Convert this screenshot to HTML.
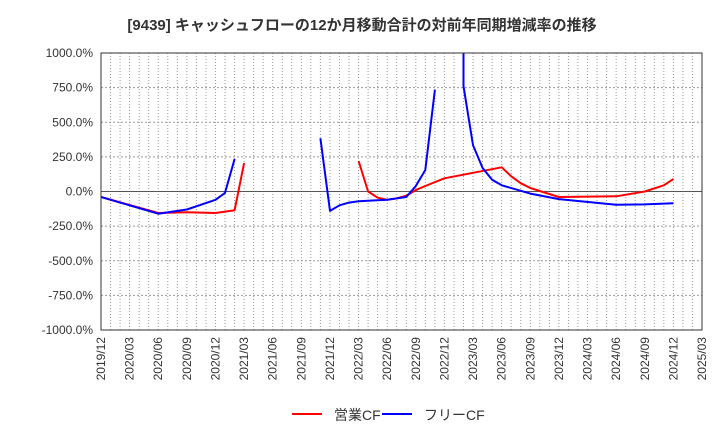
<!DOCTYPE html>
<html><head><meta charset="utf-8">
<style>
body{margin:0;background:#fff;width:720px;height:440px;overflow:hidden;font-family:"Liberation Sans","Noto Sans CJK JP",sans-serif;}
svg{display:block}
</style></head>
<body>
<svg id="chart" width="720" height="440">
<text x="362" y="30" text-anchor="middle" font-size="15" font-weight="bold" fill="#333">[9439]  キャッシュフローの12か月移動合計の対前年同期増減率の推移</text>
<g id="grid"></g>
<g id="yaxis"></g>
<g id="xaxis"></g>
<defs><clipPath id="clip"><rect x="101" y="53" width="601" height="277"/></clipPath></defs>
<g id="series" clip-path="url(#clip)"></g>
<rect x="101" y="53" width="601" height="277" fill="none" stroke="#333" stroke-width="1"/>
<g>
<line x1="292" y1="414" x2="322" y2="414" stroke="#f00" stroke-width="2"/>
<text x="334" y="420" font-size="14" fill="#333">営業CF</text>
<line x1="382" y1="414" x2="412" y2="414" stroke="#00f" stroke-width="2"/>
<text x="424" y="420" font-size="14" fill="#333">フリーCF</text>
</g>
</svg>
<script>
const xTickLabels=["2019/12","2020/03","2020/06","2020/09","2020/12","2021/03","2021/06","2021/09","2021/12","2022/03","2022/06","2022/09","2022/12","2023/03","2023/06","2023/09","2023/12","2024/03","2024/06","2024/09","2024/12","2025/03"];
const yTicks=[1000,750,500,250,0,-250,-500,-750,-1000];
// month index from 2019/12; null = gap
const opMonths=[0,6,9,12,14,15,null,27,28,29,30,31,32,33,34,36,42,43,44,45,48,54,57,59,60];
const opValues=[-40,-155,-150,-155,-135,205,null,220,0,-45,-60,-50,-30,10,40,95,175,110,60,25,-40,-35,0,45,90];
const fcfMonths=[0,6,9,12,13,14,null,23,24,25,26,27,30,32,33,34,35,null,38,38,39,40,41,42,45,48,54,57,60];
const fcfValues=[-40,-160,-130,-60,-10,235,null,385,-140,-100,-80,-70,-60,-40,40,155,735,null,1100,760,335,170,85,45,-15,-55,-95,-93,-85];
const X0=101,W=601,Y0=53,H=277,NM=63;
const x=m=>X0+m*W/NM;
const y=v=>Y0+(1000-v)*H/2000;
const NS="http://www.w3.org/2000/svg";
function mk(tag,attrs,parent){const e=document.createElementNS(NS,tag);for(const k in attrs)e.setAttribute(k,attrs[k]);parent.appendChild(e);return e;}
const grid=document.getElementById('grid'),ya=document.getElementById('yaxis'),xa=document.getElementById('xaxis'),ser=document.getElementById('series');
for(let m=1;m<NM;m++){
  const l=mk('line',{x1:x(m),x2:x(m),y1:Y0,y2:Y0+H,stroke:'#999','stroke-width':1,'stroke-dasharray':'1,2'},grid);
  
  
}
yTicks.forEach(v=>{
  if(v!==1000&&v!==-1000){
    const l=mk('line',{x1:X0,x2:X0+W,y1:y(v),y2:y(v),stroke:v===0?'#555':'#999','stroke-width':1,'stroke-dasharray':v===0?'none':'2,2'},grid);
    
    
  }
  const t=mk('text',{x:93,y:y(v)+4,'text-anchor':'end','font-size':12,fill:'#333'},ya);
  t.textContent=v.toFixed(1)+'%';
  
  
});
xTickLabels.forEach((s,i)=>{
  const xx=x(i*3);
  const t=mk('text',{x:0,y:0,'text-anchor':'end','font-size':12,fill:'#333',transform:`translate(${xx+4},337) rotate(-90)`},xa);
  t.textContent=s;
  
  
});
function draw(ms,vs,color,name){
  let segs=[],cur=[];
  ms.forEach((m,i)=>{if(m===null){if(cur.length)segs.push(cur);cur=[];}else cur.push(x(m).toFixed(1)+','+y(vs[i]).toFixed(1));});
  if(cur.length)segs.push(cur);
  segs.forEach(s=>{
    const p=mk('polyline',{points:s.join(' '),fill:'none',stroke:color,'stroke-width':2,'stroke-linejoin':'round'},ser);
    
    
  });
}
draw(opMonths,opValues,'#f00','operating-cf-line');
draw(fcfMonths,fcfValues,'#00f','free-cf-line');
</script>
</body></html>
